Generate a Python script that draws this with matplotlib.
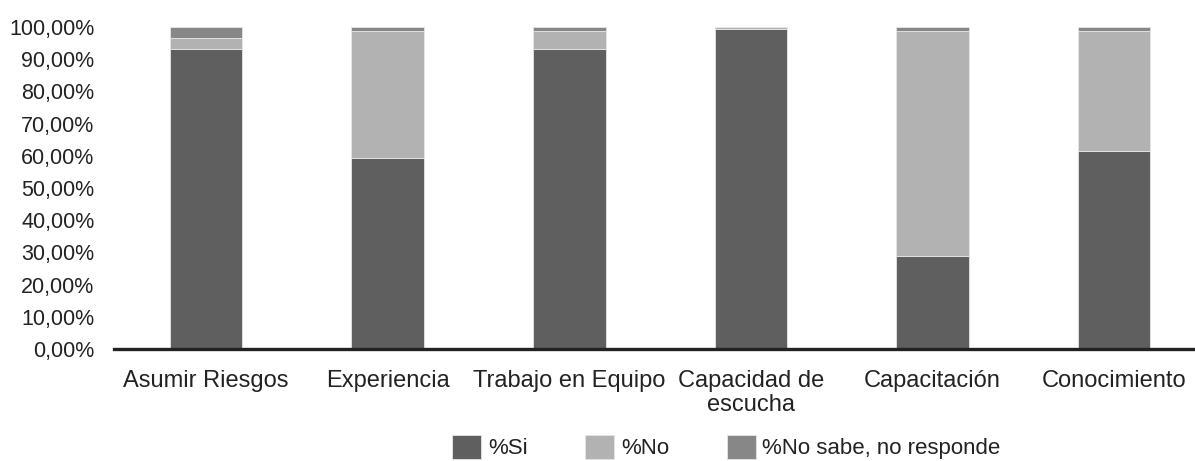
import matplotlib
matplotlib.use("Agg")
import matplotlib.pyplot as plt
import numpy as np
from matplotlib.ticker import FuncFormatter

categories = ["Asumir Riesgos", "Experiencia", "Trabajo en Equipo",
              "Capacidad de\nescucha", "Capacitación", "Conocimiento"]
si = [93.1, 59.2, 93.1, 99.3, 29.0, 61.4]
no = [3.6, 39.6, 5.6, 0.7, 69.8, 37.4]
ns = [3.3, 1.2, 1.3, 0.0, 1.2, 1.2]
series_names = ["%Si", "%No", "%No sabe, no responde"]
colors = ["#5f5f5f", "#b2b2b2", "#878787"]
yticks = list(range(0, 101, 10))

plt.rcParams['font.family'] = ['Liberation Sans', 'DejaVu Sans']

fig = plt.figure(figsize=(11.95, 4.61), dpi=100)
ax = fig.add_axes([114/1195, 1-349/461, 1-114/1195, (349-27)/461])

x = np.arange(len(categories))
w = 0.40
si_a = np.array(si); no_a = np.array(no); ns_a = np.array(ns)
ax.bar(x, si_a, w, color=colors[0], edgecolor="#e6e6e6", linewidth=0.6, label=series_names[0])
ax.bar(x, no_a, w, bottom=si_a, color=colors[1], edgecolor="#e6e6e6", linewidth=0.6, label=series_names[1])
ax.bar(x, ns_a, w, bottom=si_a+no_a, color=colors[2], edgecolor="#e6e6e6", linewidth=0.6, label=series_names[2])

ax.set_xlim(-0.507, 5.446)
ax.set_ylim(0, 100)
ax.set_yticks(yticks)
ax.yaxis.set_major_formatter(FuncFormatter(lambda v, p: f"{v:.2f}".replace('.', ',') + "%"))
ax.set_xticks(x)
ax.set_xticklabels(categories, fontsize=17, color="#222222", linespacing=1.1)
ax.tick_params(axis='y', length=0, pad=14, labelsize=15.5, labelcolor="#222222")
ax.tick_params(axis='x', length=0, pad=15)
for s in ["top", "right", "left"]:
    ax.spines[s].set_visible(False)
ax.spines["bottom"].set_color("#222222")
ax.spines["bottom"].set_linewidth(2.4)
ax.spines["bottom"].set_zorder(5)

fig.legend(loc="center", bbox_to_anchor=(0.608, 0.030), ncol=3, frameon=False,
           fontsize=16, handlelength=1.3, handleheight=1.3, handletextpad=0.3,
           columnspacing=2.6, borderpad=0, labelcolor="#222222")

fig.savefig("out.png", dpi=100)
